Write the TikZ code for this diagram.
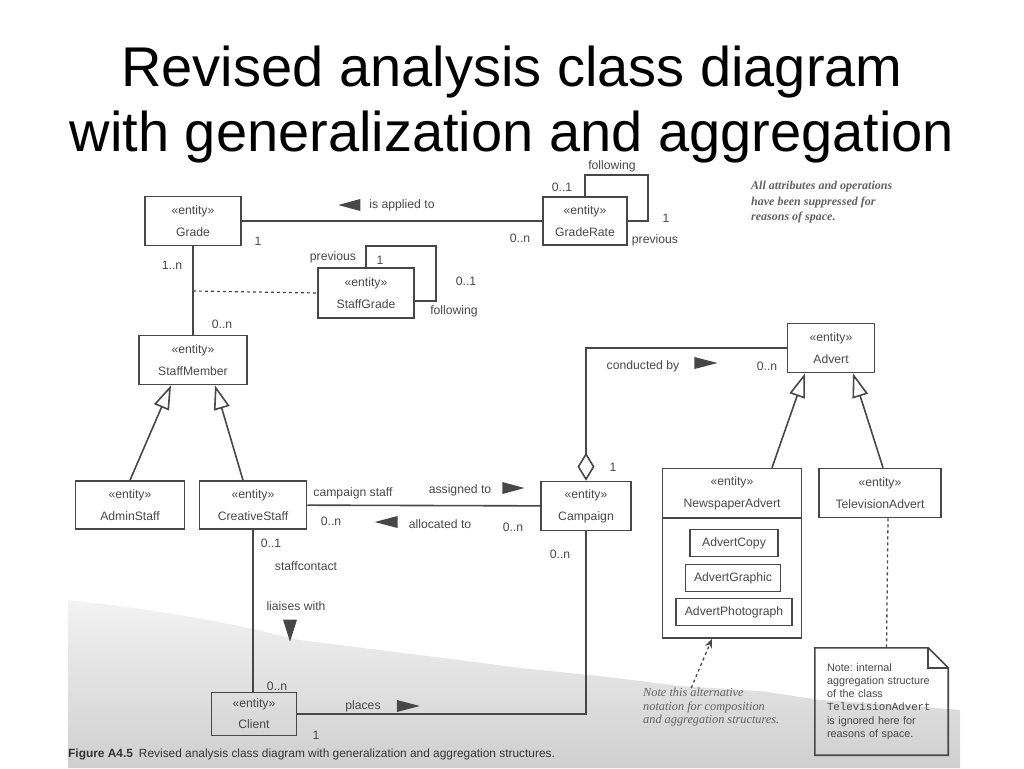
\documentclass[tikz,border=0pt]{standalone}
\usepackage{fontspec}
\setmainfont{Liberation Sans}
\newfontfamily\notefont{Liberation Serif}
\newfontfamily\codefont{Liberation Mono}
\usetikzlibrary{arrows.meta}
\frenchspacing

\definecolor{ink}{gray}{0.28}
\definecolor{inknote}{gray}{0.38}

\tikzset{
  entity/.style={draw=ink, line width=1.6pt, align=center, text=ink,
    font=\fontsize{12.2}{22}\selectfont},
  part/.style={draw=ink, line width=1.6pt, text=ink, inner sep=0pt,
    font=\fontsize{12.2}{13}\selectfont, minimum height=27pt},
  lbl/.style={text=ink, inner sep=1pt, font=\fontsize{12.2}{13}\selectfont},
  link/.style={draw=ink, line width=1.6pt},
  gen/.style={link, -{Triangle[open, length=24pt, width=16pt, fill=white]}},
  aggr/.style={link, {Diamond[open, length=28pt, width=17pt, fill=white]}-},
  title/.style={anchor=base, inner sep=0pt, font=\fontsize{56}{60}\selectfont},
}

\begin{document}
\begin{tikzpicture}[x=1pt, y=-1pt]
\useasboundingbox (0,0) rectangle (1024,768);

% scanned page background
\shade[top color=gray!10, bottom color=gray!38] (68,600) -- (120,606) -- (180,615)
  -- (240,626) -- (300,640) -- (380,650) -- (460,660) -- (520,668) -- (600,676)
  -- (680,686) -- (760,691) -- (820,700) -- (900,705) -- (960,710) -- (960,768)
  -- (68,768) -- cycle;

% title
\node[title] (titleA) at (512,86) {Revised analysis class diagram};
\node[title] (titleB) at (512,151) {with generalization and aggregation};

% classes
\node[entity, minimum width=96pt, minimum height=49pt] (Grade) at (193,221) {«entity»\\Grade};
\node[entity, minimum width=84pt, minimum height=48pt] (GradeRate) at (585,221) {«entity»\\GradeRate};
\node[entity, minimum width=96pt, minimum height=50pt] (StaffGrade) at (366,293) {«entity»\\StaffGrade};
\node[entity, minimum width=108pt, minimum height=49pt] (StaffMember) at (193,360) {«entity»\\StaffMember};
\node[entity, minimum width=109pt, minimum height=48pt] (AdminStaff) at (130,505) {«entity»\\AdminStaff};
\node[entity, minimum width=107pt, minimum height=48pt] (CreativeStaff) at (253,505) {«entity»\\CreativeStaff};
\node[entity, minimum width=90pt, minimum height=49pt] (Campaign) at (586,506) {«entity»\\Campaign};
\node[entity, minimum width=87pt, minimum height=49pt] (Advert) at (831,348) {«entity»\\Advert};
\node[entity, minimum width=139pt, minimum height=49pt] (NewspaperAdvert) at (732,493) {«entity»\\NewspaperAdvert};
\node[draw=ink, line width=1.6pt, minimum width=139pt, minimum height=120pt] (NewsBody) at (732,578) {};
\node[entity, minimum width=122pt, minimum height=49pt] (TelevisionAdvert) at (880,493) {«entity»\\TelevisionAdvert};
\node[entity, minimum width=85pt, minimum height=43pt, font=\fontsize{12.2}{21}\selectfont] (Client) at (254,714) {«entity»\\Client};

% parts of NewspaperAdvert
\node[part, minimum width=88pt] (AdvertCopy) at (734,543) {AdvertCopy};
\node[part, minimum width=95pt] (AdvertGraphic) at (733,578) {AdvertGraphic};
\node[part, minimum width=116pt] (AdvertPhotograph) at (734,612) {AdvertPhotograph};

% Grade -- GradeRate
\draw[link] (Grade) -- (GradeRate);
\node[lbl] (applied) at (402,205) {is applied to};
\fill[ink] ([xshift=-8pt]applied.west) ++(0,-6) -- ++(0,12) -- ++(-22,-6) -- cycle;
\node[lbl] (gOne) at (258,241) {1};
\node[lbl] (grMany) at (520,238) {0..n};

% GradeRate self association
\draw[link] (GradeRate.north) |- (648,175) |- (GradeRate.east);
\node[lbl, inner sep=0pt] (grFollow) at (612,166) {following};
\node[lbl] (grZeroOne) at (562,187) {0..1};
\node[lbl] (grOne) at (666,218) {1};
\node[lbl] (grPrev) at (655,240) {previous};

% StaffGrade self association
\draw[link] (StaffGrade.north) |- (436,246) |- ([yshift=-8pt]StaffGrade.east);
\node[lbl] (sgPrev) at (333,257) {previous};
\node[lbl] (sgOne) at (380,260) {1};
\node[lbl] (sgZeroOne) at (466,281) {0..1};
\node[lbl] (sgFollow) at (454,311) {following};

% Grade -- StaffMember with association class
\draw[link] (Grade) -- (StaffMember);
\coordinate (gsMid) at (193,291);
\draw[link, dashed, line width=1.2pt] (gsMid) -- (StaffGrade.west);
\node[lbl] (gMany) at (172,265) {1..n};
\node[lbl] (smMany) at (222,324) {0..n};

% generalization of StaffMember
\draw[gen] (AdminStaff.north) -- ([xshift=-22pt]StaffMember.south);
\draw[gen] ([xshift=-10pt]CreativeStaff.north) -- ([xshift=22pt]StaffMember.south);

% CreativeStaff -- Campaign
\draw[link] (CreativeStaff) -- (Campaign);
\node[lbl] (campStaff) at (353,493) {campaign staff};
\node[lbl] (assigned) at (460,490) {assigned to};
\fill[ink] ([xshift=10pt,yshift=2pt]assigned.east) ++(0,-6) -- ++(0,12) -- ++(22,-6) -- cycle;
\node[lbl] (csMany) at (331,521) {0..n};
\node[lbl] (allocated) at (440,524) {allocated to};
\fill[ink] ([xshift=-10pt,yshift=2pt]allocated.west) ++(0,-6) -- ++(0,12) -- ++(-23,-6) -- cycle;
\node[lbl] (caMany) at (513,527) {0..n};

% Campaign -- Advert
\draw[aggr] (Campaign.north) |- (Advert.west);
\node[lbl] (caOne) at (613,467) {1};
\node[lbl] (conducted) at (643,366) {conducted by};
\fill[ink] ([xshift=14pt,yshift=3pt]conducted.east) ++(0,-6) -- ++(0,12) -- ++(23,-6) -- cycle;
\node[lbl] (adMany) at (767,366) {0..n};

% generalization of Advert
\draw[gen] ([xshift=40pt]NewspaperAdvert.north) -- ([xshift=-26pt]Advert.south);
\draw[gen] ([xshift=3pt]TelevisionAdvert.north) -- ([xshift=22pt]Advert.south);

% CreativeStaff -- Client
\draw[link] (CreativeStaff.south) -- (CreativeStaff.south |- Client.north);
\node[lbl] (cs01) at (271,543) {0..1};
\node[lbl] (contact) at (306,566) {staffcontact};
\node[lbl] (liaises) at (296,606) {liaises with};
\fill[ink] ([xshift=-6pt,yshift=-8pt]liaises.south) ++(-7,0) -- ++(14,0) -- ++(-7,22) -- cycle;
\node[lbl] (clMany) at (277,686) {0..n};

% Client -- Campaign
\draw[link] (Client.east) -| (Campaign.south);
\node[lbl] (places) at (363,706) {places};
\fill[ink] ([xshift=15pt]places.east) ++(0,-6) -- ++(0,12) -- ++(23,-6) -- cycle;
\node[lbl] (clOne) at (316,735) {1};
\node[lbl] (caPlaced) at (560,554) {0..n};

% notes
\node[text=inknote, align=left, inner sep=0pt, anchor=north west,
  font=\notefont\itshape\bfseries\fontsize{12}{15.5}\selectfont] (spaceNote) at (751,181)
  {All attributes and operations\\have been suppressed for\\reasons of space.};

\node[text=inknote, align=left, inner sep=0pt, anchor=north west,
  font=\notefont\itshape\fontsize{12.3}{13.5}\selectfont] (compNote) at (643,688)
  {Note this alternative\\notation for composition\\and aggregation structures.};
\draw[link, dashed, line width=1.3pt, -{Stealth[length=9pt, width=7pt]}] ([xshift=-20pt]compNote.north) -- ([xshift=-20pt]NewsBody.south);

\node[align=left, text=ink, text width=109pt, inner xsep=12pt, inner ysep=0pt,
  minimum height=107pt, font=\fontsize{10.8}{13.2}\selectfont] (TVNote) at (881.5,701.5)
  {Note: internal\\aggregation structure\\of the class\\{\codefont TelevisionAdvert}\\is ignored here for\\reasons of space.};
\draw[link] (TVNote.north west) -- ([xshift=-20pt]TVNote.north east)
  -- ([yshift=-20pt]TVNote.north east) -- (TVNote.south east) -- (TVNote.south west) -- cycle;
\draw[link] ([xshift=-20pt]TVNote.north east) |- ([yshift=-20pt]TVNote.north east);
\draw[link, dashed, line width=1.3pt] ([xshift=8pt]TelevisionAdvert.south) -- ([xshift=5pt]TVNote.north);

% caption
\node[anchor=base west, inner sep=0pt, text=black!80, font=\fontsize{11.9}{13}\selectfont] (figCaption) at (68,757)
  {\textbf{Figure A4.5}\enspace Revised analysis class diagram with generalization and aggregation structures.};
\end{tikzpicture}
\end{document}
